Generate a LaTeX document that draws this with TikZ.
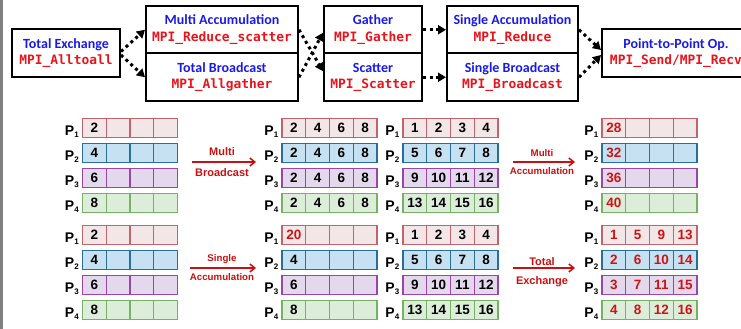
\documentclass[tikz,border=0pt]{standalone}
\usepackage{fontspec}
\setmainfont{Liberation Sans}
\setmonofont{DejaVu Sans Mono}
\newfontfamily\calib{Carlito}
\usepackage{xcolor}
\usepackage{tikz}
\usetikzlibrary{arrows.meta, positioning}

\definecolor{opblue}{HTML}{1A1AE6}
\definecolor{opred}{HTML}{E8141C}
\definecolor{arrred}{HTML}{C81010}
\definecolor{numred}{HTML}{CC1414}
\definecolor{p1fill}{HTML}{F2E6E7}
\definecolor{p1line}{HTML}{C2646E}
\definecolor{p2fill}{HTML}{C5E1F2}
\definecolor{p2line}{HTML}{2A6F97}
\definecolor{p3fill}{HTML}{E4D8EC}
\definecolor{p3line}{HTML}{9A46A6}
\definecolor{p4fill}{HTML}{DCEDD9}
\definecolor{p4line}{HTML}{78B066}

\newcommand{\cells}[4]{\makebox[23.75pt]{#1}\makebox[23.75pt]{#2}\makebox[23.75pt]{#3}\makebox[23.75pt]{#4}}
\newcommand{\pn}[1]{P\raisebox{-2.5pt}{\fontsize{8}{8}\selectfont #1}}
\newcommand{\opname}[1]{{\calib\bfseries\fontsize{14}{16.5}\selectfont\color{opblue}#1}}
\newcommand{\opcall}[1]{{\ttfamily\bfseries\fontsize{12.9}{16.5}\selectfont\color{opred}#1}}

\begin{document}
\begin{tikzpicture}[
    x=1pt, y=-1pt,
    label distance=3pt,
    opbox/.style={draw, line width=2pt, align=center, inner sep=0pt,
      font=\fontsize{13}{16.5}\selectfont},
    dotarrow/.style={line width=3pt, dash pattern=on 3pt off 3.5pt,
      -{Triangle[length=8pt, width=9pt]}},
    prow/.style={draw=#1line, fill=#1fill, line width=1.2pt, minimum width=95pt,
      minimum height=19pt, inner sep=0pt, font=\bfseries\fontsize{13.5}{14}\selectfont,
      path picture={\foreach \k in {1,2,3}
        \draw[#1line, line width=1.2pt] ([xshift=\k*23.75pt]path picture bounding box.south west)
          -- ([xshift=\k*23.75pt]path picture bounding box.north west);}},
    rednum/.style={text=numred},
    plabel/.style={font=\bfseries\fontsize{14}{14}\selectfont, inner sep=0pt, yshift=-3.5pt},
    redarrow/.style={draw=arrred, line width=1.5pt, -{Straight Barb[length=5pt, width=8pt]}},
    arrlabel/.style={text=arrred, inner sep=0pt, font=\bfseries\fontsize{11}{11}\selectfont},
    arrsmall/.style={arrlabel, font=\bfseries\fontsize{9.7}{10}\selectfont}
]
\useasboundingbox (0,0) rectangle (741,329);
\clip (0,0) rectangle (741,329);
\fill[gray] (0,0) rectangle (2.5,329);

% MPI operations
\node[opbox, minimum width=108pt, minimum height=48pt] (te) at (66,53)
  {\opname{Total Exchange}\\\opcall{MPI\_Alltoall}};
\node[opbox, minimum width=152pt, minimum height=47.5pt] (ma) at (222,29.75)
  {\opname{Multi Accumulation}\\\opcall{MPI\_Reduce\_scatter}};
\node[opbox, minimum width=152pt, minimum height=47.5pt] (tb) at (222,77.25)
  {\opname{Total Broadcast}\\\opcall{MPI\_Allgather}};
\node[opbox, minimum width=98pt, minimum height=47.5pt] (ga) at (373,29.75)
  {\opname{Gather}\\\opcall{MPI\_Gather}};
\node[opbox, minimum width=98pt, minimum height=47.5pt] (sc) at (373,77.25)
  {\opname{Scatter}\\\opcall{MPI\_Scatter}};
\node[opbox, minimum width=131pt, minimum height=47.5pt] (sa) at (512.5,29.75)
  {\opname{Single Accumulation}\\\opcall{MPI\_Reduce}};
\node[opbox, minimum width=131pt, minimum height=47.5pt] (sb) at (512.5,77.25)
  {\opname{Single Broadcast}\\\opcall{MPI\_Broadcast}};
\node[opbox, minimum width=148pt, minimum height=48pt] (pp) at (676,53)
  {\opname{Point-to-Point Op.}\\\opcall{MPI\_Send/MPI\_Recv}};
\draw[dotarrow] ([yshift=1.5pt]te.east) -- (ma.west);
\draw[dotarrow] ([yshift=-2pt]te.east) -- (tb.west);
\draw[dotarrow] (ma.east) -- ([yshift=6pt]sc.west);
\draw[dotarrow] (tb.east) -- ([yshift=-3pt]ga.west);
\draw[dotarrow] (ga.east) -- (sa.west);
\draw[dotarrow] (sc.east) -- (sb.west);
\draw[dotarrow] (sa.east) -- ([yshift=3pt]pp.west);
\draw[dotarrow] (sb.east) -- ([yshift=-2pt]pp.west);

% multi broadcast
\node[prow=p1, label={[plabel]left:\pn{1}}] (a1) at (130,128) {\cells{2}{}{}{}};
\node[prow=p2, label={[plabel]left:\pn{2}}] (a2) at (130,153) {\cells{4}{}{}{}};
\node[prow=p3, label={[plabel]left:\pn{3}}] (a3) at (130,178) {\cells{6}{}{}{}};
\node[prow=p4, label={[plabel]left:\pn{4}}] (a4) at (130,203) {\cells{8}{}{}{}};
\coordinate (mb1) at (192,162);
\coordinate (mb2) at (256,162);
\draw[redarrow] (mb1) -- (mb2);
\node[arrlabel] (mbt) at (222,152) {Multi};
\node[arrlabel] (mbb) at (222,173) {Broadcast};
\node[prow=p1, label={[plabel]left:\pn{1}}] (b1) at (329.5,128) {\cells{2}{4}{6}{8}};
\node[prow=p2, label={[plabel]left:\pn{2}}] (b2) at (329.5,153) {\cells{2}{4}{6}{8}};
\node[prow=p3, label={[plabel]left:\pn{3}}] (b3) at (329.5,178) {\cells{2}{4}{6}{8}};
\node[prow=p4, label={[plabel]left:\pn{4}}] (b4) at (329.5,203) {\cells{2}{4}{6}{8}};

% multi accumulation
\node[prow=p1, label={[plabel]left:\pn{1}}] (c1) at (450.5,128) {\cells{1}{2}{3}{4}};
\node[prow=p2, label={[plabel]left:\pn{2}}] (c2) at (450.5,153) {\cells{5}{6}{7}{8}};
\node[prow=p3, label={[plabel]left:\pn{3}}] (c3) at (450.5,178) {\cells{9}{10}{11}{12}};
\node[prow=p4, label={[plabel]left:\pn{4}}] (c4) at (450.5,203) {\cells{13}{14}{15}{16}};
\coordinate (ma1) at (513,162);
\coordinate (ma2) at (575,162);
\draw[redarrow] (ma1) -- (ma2);
\node[arrsmall] (mat) at (542,153) {Multi};
\node[arrsmall] (mab) at (542,171) {Accumulation};
\node[prow=p1, rednum, label={[plabel]left:\pn{1}}] (d1) at (649.5,128) {\cells{28}{}{}{}};
\node[prow=p2, rednum, label={[plabel]left:\pn{2}}] (d2) at (649.5,153) {\cells{32}{}{}{}};
\node[prow=p3, rednum, label={[plabel]left:\pn{3}}] (d3) at (649.5,178) {\cells{36}{}{}{}};
\node[prow=p4, rednum, label={[plabel]left:\pn{4}}] (d4) at (649.5,203) {\cells{40}{}{}{}};

% single accumulation
\node[prow=p1, label={[plabel]left:\pn{1}}] (e1) at (130,235) {\cells{2}{}{}{}};
\node[prow=p2, label={[plabel]left:\pn{2}}] (e2) at (130,260) {\cells{4}{}{}{}};
\node[prow=p3, label={[plabel]left:\pn{3}}] (e3) at (130,285) {\cells{6}{}{}{}};
\node[prow=p4, label={[plabel]left:\pn{4}}] (e4) at (130,310) {\cells{8}{}{}{}};
\coordinate (sa1) at (190,268);
\coordinate (sa2) at (256,268);
\draw[redarrow] (sa1) -- (sa2);
\node[arrsmall] (sat) at (222,259) {Single};
\node[arrsmall] (sab) at (222,277) {Accumulation};
\node[prow=p1, rednum, label={[plabel]left:\pn{1}}] (f1) at (329.5,235) {\cells{20}{}{}{}};
\node[prow=p2, label={[plabel]left:\pn{2}}] (f2) at (329.5,260) {\cells{4}{}{}{}};
\node[prow=p3, label={[plabel]left:\pn{3}}] (f3) at (329.5,285) {\cells{6}{}{}{}};
\node[prow=p4, label={[plabel]left:\pn{4}}] (f4) at (329.5,310) {\cells{8}{}{}{}};

% total exchange
\node[prow=p1, label={[plabel]left:\pn{1}}] (g1) at (450.5,235) {\cells{1}{2}{3}{4}};
\node[prow=p2, label={[plabel]left:\pn{2}}] (g2) at (450.5,260) {\cells{5}{6}{7}{8}};
\node[prow=p3, label={[plabel]left:\pn{3}}] (g3) at (450.5,285) {\cells{9}{10}{11}{12}};
\node[prow=p4, label={[plabel]left:\pn{4}}] (g4) at (450.5,310) {\cells{13}{14}{15}{16}};
\coordinate (tx1) at (513,268);
\coordinate (tx2) at (575,268);
\draw[redarrow] (tx1) -- (tx2);
\node[arrlabel] (txt) at (542,262) {Total};
\node[arrlabel] (txb) at (542,282) {Exchange};
\node[prow=p1, rednum, label={[plabel]left:\pn{1}}] (h1) at (649.5,235) {\cells{1}{5}{9}{13}};
\node[prow=p2, rednum, label={[plabel]left:\pn{2}}] (h2) at (649.5,260) {\cells{2}{6}{10}{14}};
\node[prow=p3, rednum, label={[plabel]left:\pn{3}}] (h3) at (649.5,285) {\cells{3}{7}{11}{15}};
\node[prow=p4, rednum, label={[plabel]left:\pn{4}}] (h4) at (649.5,310) {\cells{4}{8}{12}{16}};
\end{tikzpicture}
\end{document}
